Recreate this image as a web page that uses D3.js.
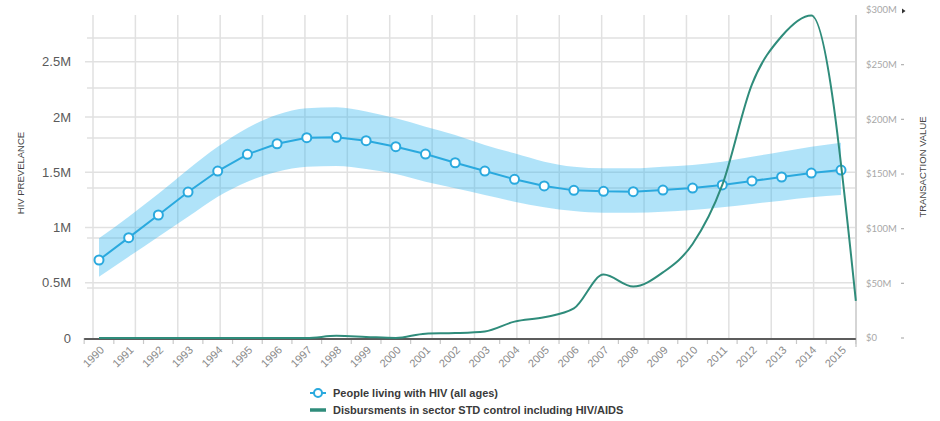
<!DOCTYPE html>
<html>
<head>
<meta charset="utf-8">
<script src="https://cdn.jsdelivr.net/npm/d3@7"></script>
<style>
  html, body { margin: 0; padding: 0; background: #fff; }
  svg { display: block; }
</style>
</head>
<body>
<svg id="chart" width="940" height="421"></svg>
<script>
// Years on the x axis
const years = [1990, 1991, 1992, 1993, 1994, 1995, 1996, 1997, 1998, 1999, 2000, 2001, 2002,
               2003, 2004, 2005, 2006, 2007, 2008, 2009, 2010, 2011, 2012, 2013, 2014, 2015];

// People living with HIV (all ages): estimate with lower / upper bounds
const hivEstimate = [706000, 908000, 1113000, 1321000, 1511000, 1662000, 1758000, 1813000, 1816000,
                     1786000, 1731000, 1665000, 1586000, 1511000, 1436000, 1376000, 1336000, 1327000,
                     1324000, 1339000, 1357000, 1385000, 1421000, 1457000, 1493000, 1520000];
const hivUpper = [902000, 1098000, 1305000, 1525000, 1730000, 1900000, 2020000, 2080000, 2088000,
                  2050000, 1988000, 1912000, 1837000, 1747000, 1671000, 1596000, 1550000, 1536000,
                  1536000, 1550000, 1566000, 1596000, 1641000, 1686000, 1731000, 1768000];
const hivLower = [555000, 736000, 917000, 1098000, 1279000, 1415000, 1505000, 1550000, 1557000,
                  1529000, 1484000, 1415000, 1355000, 1294000, 1234000, 1183000, 1149000, 1134000,
                  1134000, 1143000, 1158000, 1183000, 1213000, 1243000, 1273000, 1294000];

// Disbursements in sector STD control including HIV/AIDS (US$ millions)
const disbYears = [1990, 1991, 1992, 1993, 1994, 1995, 1996, 1997, 1998, 1999, 2000, 2001, 2002,
                   2003, 2004, 2005, 2006, 2007, 2008, 2009, 2010, 2011, 2012, 2013, 2014, 2015.5];
const disbValues = [0, 0, 0, 0, 0, 0, 0, 0, 2, 1, 0, 4, 4.5, 6, 15, 19, 27, 58, 47, 60, 86, 140, 232, 276, 295, 34];

// Axis ticks
const leftTicks = [0, 500000, 1000000, 1500000, 2000000, 2500000];
const leftTickLabels = ["0", "0.5M", "1M", "1.5M", "2M", "2.5M"];
const rightTicks = [0, 50, 100, 150, 200, 250, 300];
const rightTickLabels = ["$0", "$50M", "$100M", "$150M", "$200M", "$250M", "$300M"];

const legendLabels = ["People living with HIV (all ages)", "Disbursments in sector STD control including HIV/AIDS"];

const hivColor = "#2aa9de";
const disbColor = "#2f8c7b";
const gridColor = "#e1e1e1";

const svg = d3.select("#chart");

const plot = { left: 93, right: 856, top: 15, bottom: 338 };

const x = d3.scaleLinear().domain([1990, 2015]).range([99, 841]);
const yLeft = d3.scaleLinear().domain([0, 2500000]).range([plot.bottom, 61.75]);
const yRight = d3.scaleLinear().domain([0, 300]).range([plot.bottom, 10]);
// secondary grid: six equal bands, and an 18-column vertical grid
const yGrid = d3.scaleLinear().domain([0, 6]).range([plot.bottom, 38]);
const xGrid = d3.scaleLinear().domain([0, 18]).range([plot.left, plot.right]);

const grid = svg.append("g").attr("stroke", gridColor).attr("stroke-width", 1.5);

// vertical grid
grid.selectAll("line.v").data(d3.range(0, 19)).join("line")
  .attr("x1", d => xGrid(d)).attr("x2", d => xGrid(d))
  .attr("y1", plot.top).attr("y2", plot.bottom);

// horizontal grid on the left-axis ticks
grid.selectAll("line.hA").data(leftTicks.slice(1)).join("line")
  .attr("x1", 85).attr("x2", plot.right)
  .attr("y1", d => yLeft(d)).attr("y2", d => yLeft(d));

// second set of horizontal grid lines
grid.selectAll("line.hB").data(d3.range(1, 7)).join("line")
  .attr("x1", 87).attr("x2", plot.right)
  .attr("y1", d => yGrid(d)).attr("y2", d => yGrid(d));

// right edge line
svg.append("line")
  .attr("x1", plot.right).attr("x2", plot.right)
  .attr("y1", plot.top).attr("y2", 347)
  .attr("stroke", "#cfcfcf").attr("stroke-width", 1.5);

// x axis ticks at year boundaries
const boundaries = years.map(y => y - 0.5).concat([2015.5]);
svg.append("g").selectAll("line").data(boundaries).join("line")
  .attr("x1", d => x(d)).attr("x2", d => x(d))
  .attr("y1", plot.bottom).attr("y2", plot.bottom + 6)
  .attr("stroke", "#c8c8c8").attr("stroke-width", 1.2);

// x axis line
svg.append("line")
  .attr("x1", x(1989.5)).attr("x2", x(2015.5))
  .attr("y1", plot.bottom + 1).attr("y2", plot.bottom + 1)
  .attr("stroke", "#5c5c5c").attr("stroke-width", 2);

// year labels
svg.append("g").selectAll("text").data(years).join("text")
  .attr("transform", d => `translate(${x(d) + 3},${plot.bottom + 10}) rotate(-45)`)
  .attr("text-anchor", "end")
  .attr("dy", "0.35em")
  .attr("font-family", "Liberation Sans, Arial, sans-serif")
  .attr("font-size", 11)
  .attr("fill", "#8a8a8a")
  .text(d => d);

// left axis labels
svg.append("g").selectAll("text").data(leftTicks).join("text")
  .attr("x", 71).attr("y", d => yLeft(d))
  .attr("dy", "0.35em")
  .attr("text-anchor", "end")
  .attr("font-family", "Liberation Sans, Arial, sans-serif")
  .attr("font-size", 13)
  .attr("fill", "#5a5a5a")
  .text((d, i) => leftTickLabels[i]);

// right axis labels with small tick dashes
const rAxis = svg.append("g");
rAxis.selectAll("text").data(rightTicks).join("text")
  .attr("x", 866).attr("y", d => yRight(d))
  .attr("dy", "0.35em")
  .attr("font-family", "Lato, sans-serif")
  .attr("font-size", 9.5)
  .attr("fill", "#a8a8a8")
  .text((d, i) => rightTickLabels[i]);
rAxis.selectAll("line").data(rightTicks.slice(0, -1)).join("line")
  .attr("x1", 901).attr("x2", 904)
  .attr("y1", d => yRight(d)).attr("y2", d => yRight(d))
  .attr("stroke", "#b0b0b0").attr("stroke-width", 1.2);
rAxis.append("path")
  .attr("transform", `translate(902,${yRight(300) + 1})`)
  .attr("d", "M0,-2.5L3.5,0L0,2.5Z")
  .attr("fill", "#333");

// axis titles
svg.append("text")
  .attr("transform", `translate(21,173) rotate(-90)`)
  .attr("text-anchor", "middle")
  .attr("dy", "0.35em")
  .attr("font-family", "Liberation Sans, Arial, sans-serif")
  .attr("font-size", 9.5)
  .attr("fill", "#444")
  .text("HIV PREVELANCE");
svg.append("text")
  .attr("transform", `translate(923,167) rotate(-90)`)
  .attr("text-anchor", "middle")
  .attr("dy", "0.35em")
  .attr("font-family", "Liberation Sans, Arial, sans-serif")
  .attr("font-size", 9.5)
  .attr("fill", "#444")
  .text("TRANSACTION VALUE");

// uncertainty band
const band = d3.area()
  .x((d, i) => x(years[i]))
  .y0((d, i) => yLeft(hivLower[i]))
  .y1((d, i) => yLeft(hivUpper[i]))
  .curve(d3.curveMonotoneX);
svg.append("path")
  .datum(years)
  .attr("d", band)
  .attr("fill", "#2ab3ee")
  .attr("fill-opacity", 0.37);

// estimate line and markers
const hivLine = d3.line()
  .x((d, i) => x(years[i]))
  .y(d => yLeft(d));
svg.append("path")
  .datum(hivEstimate)
  .attr("d", hivLine)
  .attr("fill", "none")
  .attr("stroke", hivColor)
  .attr("stroke-width", 2);
svg.append("g").selectAll("circle").data(hivEstimate).join("circle")
  .attr("cx", (d, i) => x(years[i]))
  .attr("cy", d => yLeft(d))
  .attr("r", 4.5)
  .attr("fill", "#fff")
  .attr("stroke", hivColor)
  .attr("stroke-width", 2);

// disbursement line
const disbLine = d3.line()
  .x((d, i) => x(disbYears[i]))
  .y(d => yRight(d))
  .curve(d3.curveMonotoneX);
svg.append("path")
  .datum(disbValues)
  .attr("d", disbLine)
  .attr("fill", "none")
  .attr("stroke", disbColor)
  .attr("stroke-width", 2);

// legend
const legend = svg.append("g").attr("font-family", "Liberation Sans, Arial, sans-serif");
const l1 = legend.append("g").attr("transform", "translate(310,393)");
l1.append("line").attr("x1", 0).attr("x2", 16).attr("stroke", hivColor).attr("stroke-width", 2);
l1.append("circle").attr("cx", 8).attr("r", 4).attr("fill", "#fff").attr("stroke", hivColor).attr("stroke-width", 2);
l1.append("text").attr("x", 23).attr("dy", "0.35em").attr("font-size", 11).attr("font-weight", "bold")
  .attr("fill", "#3a3a3a").text(legendLabels[0]);
const l2 = legend.append("g").attr("transform", "translate(310,410)");
l2.append("line").attr("x1", 0).attr("x2", 16).attr("stroke", disbColor).attr("stroke-width", 3.5);
l2.append("text").attr("x", 23).attr("dy", "0.35em").attr("font-size", 11).attr("font-weight", "bold")
  .attr("fill", "#3a3a3a").text(legendLabels[1]);
</script>
</body>
</html>
